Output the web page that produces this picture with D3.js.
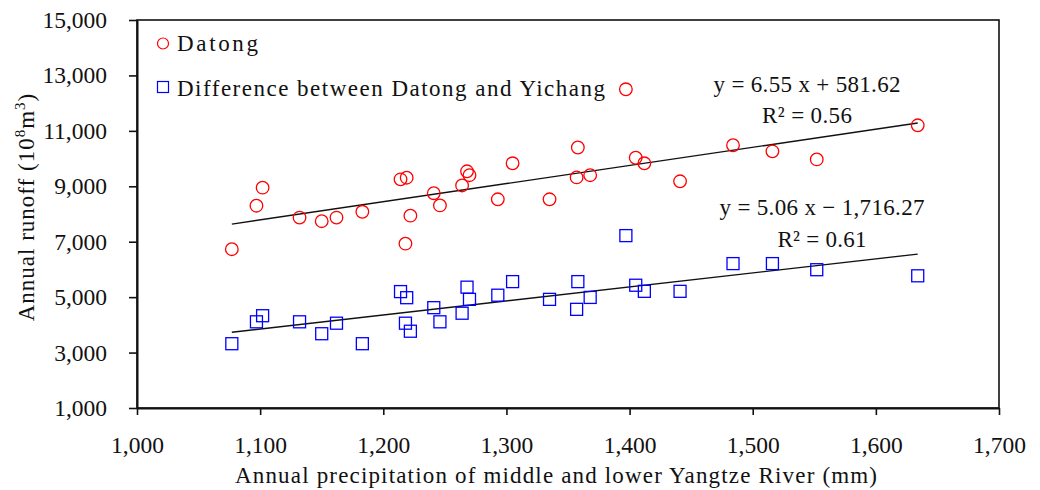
<!DOCTYPE html>
<html>
<head>
<meta charset="utf-8">
<script src="https://cdn.jsdelivr.net/npm/d3@7"></script>
<style>
  body { margin: 0; background: #fff; }
  svg text { font-family: "Liberation Serif", "DejaVu Serif", serif; fill: #111; font-size: 23px; }
</style>
</head>
<body>
<div id="chart"></div>
<script>
(function () {
    // precipitation (mm) for each year
    var precip = [1077, 1097, 1102, 1132, 1150, 1162, 1183, 1214, 1219, 1218, 1222,
        1241, 1246, 1264, 1268, 1270, 1293, 1305, 1335, 1357, 1358, 1368,
        1397, 1405, 1412, 1441, 1484, 1516, 1552, 1634]
    // Datong annual runoff
    var datong = [6730, 8300, 8950, 7870, 7740, 7870, 8080, 9250, 9310, 6930, 7940,
        8750, 8310, 9030, 9540, 9400, 8530, 9830, 8530, 9320, 10400, 9400,
        12500, 10030, 9830, 9180, 10480, 10260, 9970, 11200]
    // Datong minus Yichang
    var diff = [3320, 4110, 4330, 4110, 3680, 4060, 3320, 5200, 4980, 4060, 3770,
        4620, 4110, 4420, 5360, 4920, 5070, 5560, 4920, 4560, 5560, 4990,
        7220, 5430, 5210, 5210, 6210, 6210, 5990, 5770]

    var xTicks = [1000, 1100, 1200, 1300, 1400, 1500, 1600, 1700]
    var yTicks = [1000, 3000, 5000, 7000, 9000, 11000, 13000, 15000]

    // fitted lines as printed on the chart
    var fitDatong = { slope: 6.55, icpt: 581.62, eq: "y = 6.55 x + 581.62", r2: "0.56" }
    var fitDiff = { slope: 5.06, icpt: -1716.27, eq: "y = 5.06 x \u2212 1,716.27", r2: "0.61" }

    var width = 1040, height = 490
    var margin = { left: 137, right: 41, top: 20, bottom: 82 }

    var svg = d3.select("#chart").append("svg")
        .attr("width", width).attr("height", height)

    var x = d3.scaleLinear().domain([1000, 1700]).range([margin.left, width - margin.right])
    var y = d3.scaleLinear().domain([1000, 15000]).range([height - margin.bottom, margin.top])

    var fmt = d3.format(",")

    // frame
    svg.append("rect")
        .attr("x", x(1000)).attr("y", y(15000))
        .attr("width", x(1700) - x(1000)).attr("height", y(1000) - y(15000))
        .attr("fill", "none").attr("stroke", "#111").attr("stroke-width", 1.6)

    var xAxis = svg.append("g")
        .attr("transform", "translate(0," + y(1000) + ")")
        .call(d3.axisBottom(x).tickValues(xTicks).tickFormat(fmt).tickSizeInner(7).tickSizeOuter(0).tickPadding(21))
    var yAxis = svg.append("g")
        .attr("transform", "translate(" + x(1000) + ",0)")
        .call(d3.axisLeft(y).tickValues(yTicks).tickFormat(fmt).tickSizeInner(8).tickSizeOuter(0).tickPadding(22))

    ;[xAxis, yAxis].forEach(function (g) {
        g.select(".domain").attr("stroke", "#111").attr("stroke-width", 2)
        g.selectAll(".tick line").attr("stroke", "#111").attr("stroke-width", 1.6)
        g.selectAll("text").style("font-size", "23.5px").attr("fill", "#111")
            .style("font-family", "'Liberation Serif', serif")
    })

    // trend lines
    var fits = [fitDatong, fitDiff]
    var xmin = d3.min(precip), xmax = d3.max(precip)
    svg.append("g").selectAll("line")
        .data(fits)
        .join("line")
        .attr("x1", x(xmin)).attr("x2", x(xmax))
        .attr("y1", function (d) { return y(d.slope * xmin + d.icpt) })
        .attr("y2", function (d) { return y(d.slope * xmax + d.icpt) })
        .attr("stroke", "#111").attr("stroke-width", 1.4)

    // points
    svg.append("g").selectAll("circle")
        .data(precip)
        .join("circle")
        .attr("cx", function (d) { return x(d) })
        .attr("cy", function (d, i) { return y(datong[i]) })
        .attr("r", 6.3)
        .attr("fill", "none").attr("stroke", "#ff0000").attr("stroke-width", 1.3)

    svg.append("g").selectAll("rect")
        .data(precip)
        .join("rect")
        .attr("x", function (d) { return x(d) - 6 })
        .attr("y", function (d, i) { return y(diff[i]) - 6 })
        .attr("width", 12).attr("height", 12)
        .attr("fill", "none").attr("stroke", "#0000ff").attr("stroke-width", 1.3)

    // equations (widths taken from the reference lettering)
    var eqPos = [{ cx: 807, y1: 92, y2: 123, w1: 187, w2: 90 },
                 { cx: 822, y1: 215, y2: 247, w1: 205, w2: 89 }]
    fits.forEach(function (f, i) {
        var p = eqPos[i]
        svg.append("text").attr("x", p.cx - p.w1 / 2).attr("y", p.y1)
            .attr("textLength", p.w1).attr("lengthAdjust", "spacing").text(f.eq)
        svg.append("text").attr("x", p.cx - p.w2 / 2).attr("y", p.y2)
            .attr("textLength", p.w2).attr("lengthAdjust", "spacing").text("R\u00b2 = " + f.r2)
    })

    // legend
    var legend = svg.append("g")
    legend.append("circle").attr("cx", 163).attr("cy", 43.5).attr("r", 5.5)
        .attr("fill", "none").attr("stroke", "#ff0000").attr("stroke-width", 1.2)
    legend.append("text").attr("x", 177).attr("y", 51)
        .attr("textLength", 81).attr("lengthAdjust", "spacing").text("Datong")
    legend.append("rect").attr("x", 157.5).attr("y", 81.5).attr("width", 11).attr("height", 11)
        .attr("fill", "none").attr("stroke", "#0000ff").attr("stroke-width", 1.2)
    legend.append("text").attr("x", 177).attr("y", 96)
        .attr("textLength", 428).attr("lengthAdjust", "spacing")
        .text("Difference between Datong and Yichang")

    // axis titles
    svg.append("text").attr("x", 235).attr("y", 483)
        .attr("textLength", 642).attr("lengthAdjust", "spacing")
        .text("Annual precipitation of middle and lower Yangtze River (mm)")

    var yt = svg.append("text")
        .attr("transform", "translate(34,207) rotate(-90)")
        .attr("text-anchor", "middle").style("letter-spacing", "1px")
    yt.append("tspan").text("Annual runoff (10")
    yt.append("tspan").attr("dy", -9).style("font-size", "15px").text("8")
    yt.append("tspan").attr("dy", 9).text("m")
    yt.append("tspan").attr("dy", -9).style("font-size", "15px").text("3")
    yt.append("tspan").attr("dy", 9).text(")")
})();
</script>
</body>
</html>
